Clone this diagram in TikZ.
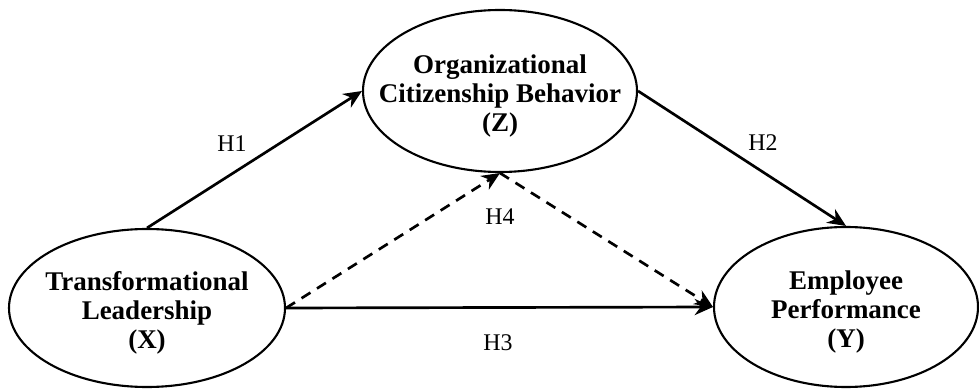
\documentclass[tikz,border=0pt]{standalone}
\usepackage{fontspec}
\setmainfont{Liberation Serif}
\usetikzlibrary{arrows.meta, shapes.geometric}

\tikzset{
    construct/.style={draw, ellipse, line width=1.5pt, inner sep=0pt},
    ctext/.style={align=center, yshift=-0.12cm, font=\bfseries\fontsize{19.2}{20.5}\selectfont},
    hyp/.style={font=\fontsize{17}{20}\selectfont},
    link/.style={->, line width=1.9pt},
    dlink/.style={link, dash pattern=on 7.5pt off 5.5pt}
}

\begin{document}
\begin{tikzpicture}[>={Stealth[length=13pt, width=11.5pt]}]
        \useasboundingbox (0,0) rectangle (24.475,9.725);

        % Constructs
        \node[construct, minimum width=6.9cm, minimum height=3.95cm] (X) at (3.675,2.025) {};
        \node[construct, minimum width=6.85cm, minimum height=4.05cm] (Z) at (12.5,7.45) {};
        \node[construct, minimum width=6.6cm, minimum height=4cm] (Y) at (21.15,2.05) {};

        \node[ctext] (Xt) at (X) {Transformational\\Leadership\\(X)};
        \node[ctext] (Zt) at (Z) {Organizational\\Citizenship Behavior\\(Z)};
        \node[ctext] (Yt) at (Y) {Employee\\Performance\\(Y)};

        % Direct paths
        \draw[link] (X.north) -- (Z.west);
        \draw[link] (Z.east) -- (Y.north);
        \draw[link] (X.east) -- (Y.west);

        % Mediation path
        \draw[dlink] (X.east) -- (Z.south);
        \draw[dlink] (Z.south) -- (Y.west);

        % Hypotheses
        \node[hyp] (H1) at (5.8,6.125) {H1};
        \node[hyp] (H2) at (19.075,6.15) {H2};
        \node[hyp] (H3) at (12.45,1.15) {H3};
        \node[hyp] (H4) at (12.5,4.3) {H4};
    \end{tikzpicture}
\end{document}
